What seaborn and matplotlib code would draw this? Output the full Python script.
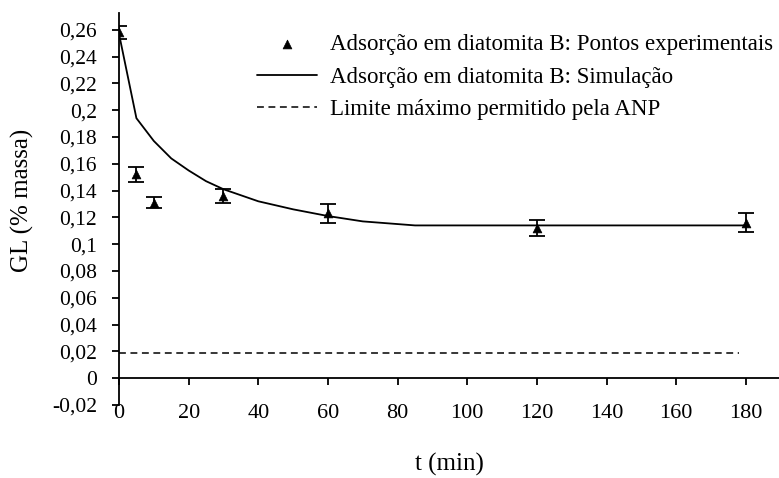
import numpy as np
import pandas as pd
import matplotlib
matplotlib.use("Agg")
import matplotlib.pyplot as plt
import seaborn as sns

# Experimental points (time in min, GL in % mass) with error bars
t_exp = [0, 5, 10, 30, 60, 120, 180]
gl_exp = [0.258, 0.152, 0.131, 0.136, 0.123, 0.112, 0.116]
gl_err = [0.005, 0.0055, 0.004, 0.0053, 0.007, 0.0058, 0.0072]

# Simulated adsorption curve
t_sim = [0, 5, 10, 15, 20, 25, 30, 40, 50, 60, 70, 85, 120, 180]
gl_sim = [0.257, 0.194, 0.177, 0.164, 0.155, 0.147, 0.141, 0.132, 0.126,
          0.121, 0.117, 0.114, 0.114, 0.114]

# Maximum limit allowed by ANP
t_lim = [0, 178]
gl_lim = [0.019, 0.019]

x_ticks = [0, 20, 40, 60, 80, 100, 120, 140, 160, 180]
y_ticks = [-0.02, 0, 0.02, 0.04, 0.06, 0.08, 0.1, 0.12, 0.14, 0.16, 0.18,
           0.2, 0.22, 0.24, 0.26]

lab_exp = "Adsorção em diatomita B: Pontos experimentais"
lab_sim = "Adsorção em diatomita B: Simulação"
lab_lim = "Limite máximo permitido pela ANP"

sns.set_style("ticks")
plt.rcParams["font.family"] = ["Liberation Serif", "DejaVu Serif"]
plt.rcParams["text.color"] = "black"

FS_XTICK = 16
FS_YTICK = 15.5
FS_LEG = 16.5
FS_LAB = 18

fig = plt.figure(figsize=(7.79, 4.78), dpi=100)
ax = fig.add_axes([119 / 779, 73 / 478, 660 / 779, 392 / 478])

df_exp = pd.DataFrame({"t": t_exp, "gl": gl_exp})
df_sim = pd.DataFrame({"t": t_sim, "gl": gl_sim})
df_lim = pd.DataFrame({"t": t_lim, "gl": gl_lim})

ax.errorbar(t_exp, gl_exp, yerr=gl_err, fmt="none", ecolor="black",
            elinewidth=1.3, capsize=5.5, capthick=1.3, zorder=3)
sns.scatterplot(data=df_exp, x="t", y="gl", marker="^", color="black",
                s=40, edgecolor="black", linewidth=0.5, ax=ax,
                label=lab_exp, zorder=4)
sns.lineplot(data=df_sim, x="t", y="gl", color="black", lw=1.3,
             ax=ax, label=lab_sim, zorder=2)
sns.lineplot(data=df_lim, x="t", y="gl", color="black", lw=1.1,
             linestyle=(0, (4.5, 3)), ax=ax, label=lab_lim, zorder=2)

ax.set_xlim(0, 189.5)
ax.set_ylim(-0.02, 0.2725)

ax.spines["top"].set_visible(False)
ax.spines["right"].set_visible(False)
ax.spines["bottom"].set_position(("data", 0))
for s in ("left", "bottom"):
    ax.spines[s].set_linewidth(1.3)
    ax.spines[s].set_color("black")

ax.set_xticks(x_ticks)
ax.set_xticklabels([str(v) for v in x_ticks])
ax.set_yticks(y_ticks)
ax.set_yticklabels([f"{round(v, 2):g}".replace(".", ",") for v in y_ticks])
ax.tick_params(axis="x", direction="out", length=5, width=1.3, pad=13.5,
               labelsize=FS_XTICK, colors="black")
ax.tick_params(axis="y", direction="out", length=5, width=1.3, pad=11,
               labelsize=FS_YTICK, colors="black")

ax.set_xlabel("")
ax.set_ylabel("")
fig.text(449 / 779, 1 - 464 / 478, "t (min)", ha="center", va="center",
         fontsize=FS_LAB)
fig.text(22 / 779, 1 - 200 / 478, "GL (% massa)", ha="center", va="center",
         rotation=90, fontsize=FS_LAB)

ax.legend(loc="upper left", bbox_to_anchor=(257 / 779, 1 - 34 / 478),
          bbox_transform=fig.transFigure, frameon=False, fontsize=FS_LEG,
          handlelength=2.6, handletextpad=0.6, labelspacing=0.5,
          borderpad=0, borderaxespad=0, markerscale=1.0)

fig.savefig("out.png", dpi=100)
